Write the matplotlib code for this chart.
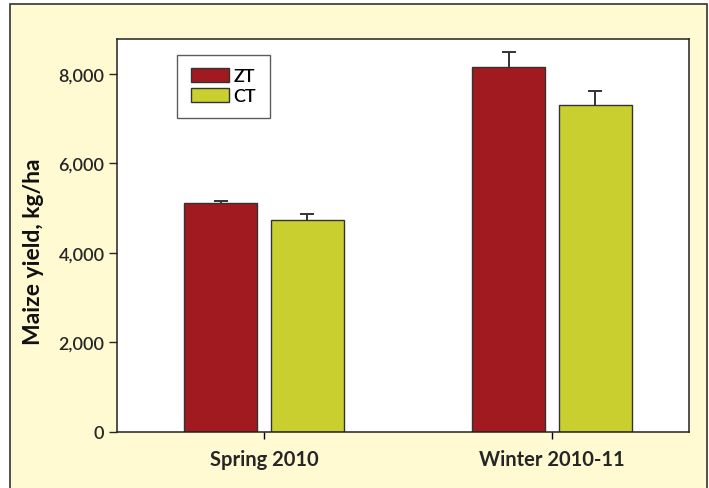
import numpy as np
import matplotlib.pyplot as plt
from matplotlib.patches import Rectangle

seasons = ['Spring 2010', 'Winter 2010-11']
treatments = ['ZT', 'CT']
zt_yield = [5120, 8160]
ct_yield = [4740, 7310]
zt_err = [50, 330]
ct_err = [130, 310]

colors = {'ZT': '#A01A20', 'CT': '#C9CF2E'}
panel_color = '#FFFAD2'
line_color = '#333333'

plt.rcParams['font.family'] = ['Lato', 'DejaVu Sans']

fig = plt.figure(figsize=(7.09, 4.89), dpi=100)
fig.patch.set_facecolor('white')

# pale yellow background panel behind the chart
fig.patches.append(Rectangle((10 / 709, -0.02), 697 / 709, 1.02 - 5 / 489,
                             transform=fig.transFigure, facecolor=panel_color,
                             edgecolor=line_color, linewidth=1.2, zorder=-1))

ax = fig.add_axes([117 / 709, 1 - 433 / 489, 572 / 709, 393 / 489])
ax.set_facecolor('white')

x = np.arange(len(seasons))
width = 0.254
offset = 0.15
cap = 0.024

for pos, vals, errs, name in [(x - offset, zt_yield, zt_err, 'ZT'),
                              (x + offset, ct_yield, ct_err, 'CT')]:
    vals = np.asarray(vals)
    errs = np.asarray(errs)
    ax.bar(pos, vals, width, color=colors[name], edgecolor=line_color,
           linewidth=1.0, label=name, zorder=2)
    # upper half of the error bar only
    ax.vlines(pos, vals, vals + errs, color=line_color, linewidth=1.4, zorder=1)
    ax.hlines(vals + errs, pos - cap, pos + cap, color=line_color,
              linewidth=1.4, zorder=1)

ax.set_xlim(-0.51, 1.476)
ax.set_ylim(0, 8780)
ax.set_yticks([0, 2000, 4000, 6000, 8000])
ax.set_yticklabels(['0', '2,000', '4,000', '6,000', '8,000'])
ax.set_xticks(x)
ax.set_xticklabels(seasons, fontsize=14.5, fontweight='bold', color='#262626')
ax.tick_params(axis='y', direction='out', length=6, width=1, labelsize=13,
               colors='#262626', pad=3)
ax.tick_params(axis='x', direction='out', length=5, width=1, pad=7)
for lbl in ax.get_yticklabels():
    lbl.set_fontweight('semibold')

for sp in ax.spines.values():
    sp.set_color('#222222')
    sp.set_linewidth(1.1)

ax.set_ylabel('Maize yield, kg/ha', fontsize=16.5, fontweight='bold',
              color='#111111')
ax.yaxis.set_label_coords(-0.128, 0.46)

leg = ax.legend(loc='upper left', bbox_to_anchor=(0.105, 0.96),
                frameon=True, fancybox=False, fontsize=13,
                handlelength=2.1, handleheight=0.8, handletextpad=0.28,
                labelspacing=0.2, borderpad=0.75, borderaxespad=0)
leg.get_frame().set_edgecolor(line_color)
leg.get_frame().set_linewidth(1.0)
for t in leg.get_texts():
    t.set_fontweight('semibold')

fig.savefig('out.png', dpi=100)
